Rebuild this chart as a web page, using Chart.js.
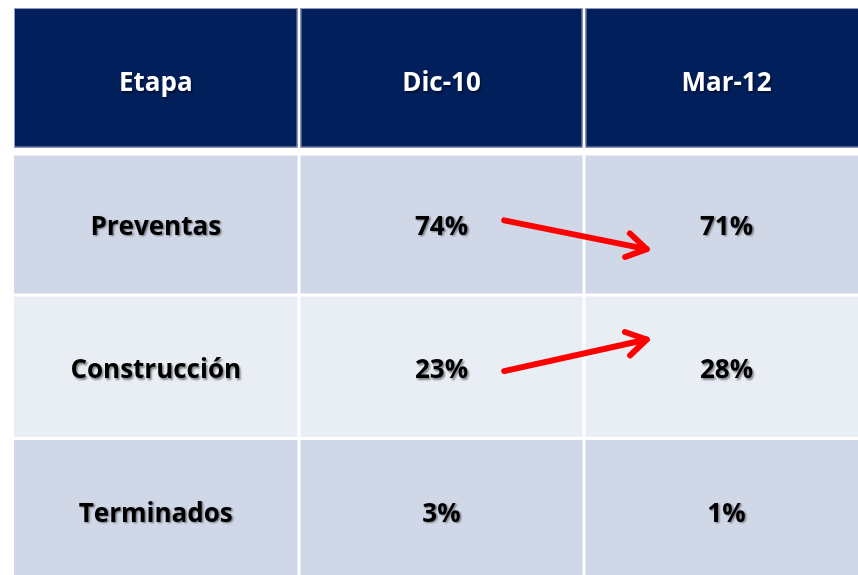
<!DOCTYPE html>
<html>
<head>
<meta charset="utf-8">
<script src="https://cdn.jsdelivr.net/npm/chart.js@4"></script>
<style>
  body { margin: 0; background: #fff; }
  canvas { display: block; }
</style>
</head>
<body>
<canvas id="tableChart" width="858" height="575"></canvas>
<script>
// --- table data ---
const columns = ['Etapa', 'Dic-10', 'Mar-12'];
const stages = ['Preventas', 'Construcción', 'Terminados'];
const dic10 = [74, 23, 3];
const mar12 = [71, 28, 1];

// arrows (in table units: x = column, y = row, header is row 0..1)
const arrowFrom = [[1.72, 1.48], [1.72, 2.53]];
const arrowTo = [[2.22, 1.68], [2.22, 2.31]];

const headerColor = '#001f5b';
const rowColors = ['#d0d8e8', '#e9edf4', '#d0d8e8'];

// draws the cells and the text using the chart scales
const tablePlugin = {
    id: 'tableCells',
    beforeDatasetsDraw(chart) {
        const ctx = chart.ctx;
        const xs = chart.scales.x;
        const ys = chart.scales.y;
        const nRows = stages.length + 1;

        for (let r = 0; r < nRows; r++) {
            for (let c = 0; c < columns.length; c++) {
                let left = xs.getPixelForValue(c) + (c === 0 ? 0 : 1.5);
                let right = xs.getPixelForValue(c + 1) - 1.5;
                let top = ys.getPixelForValue(r) + (r === 0 ? 0 : 1.5);
                let bottom = ys.getPixelForValue(r + 1) - 1.5;
                if (r === 0) bottom -= 2.5;
                if (r === 1) top += 2.5;

                ctx.fillStyle = r === 0 ? headerColor : rowColors[r - 1];
                ctx.fillRect(left, top, right - left, bottom - top);
                if (r === 0) {
                    ctx.strokeStyle = '#8d9cc0';
                    ctx.lineWidth = 1;
                    ctx.strokeRect(left + 0.5, top + 0.5, right - left - 1, bottom - top - 1);
                }

                let text;
                if (r === 0) text = columns[c];
                else if (c === 0) text = stages[r - 1];
                else if (c === 1) text = dic10[r - 1] + '%';
                else text = mar12[r - 1] + '%';

                const cx = (left + right) / 2;
                const cy = (ys.getPixelForValue(r) + ys.getPixelForValue(r + 1)) / 2 + 4;
                ctx.save();
                ctx.font = 'bold 26px "Open Sans"';
                ctx.textAlign = 'center';
                ctx.textBaseline = 'middle';
                ctx.shadowColor = 'rgba(0,0,0,0.45)';
                ctx.shadowOffsetX = 1.5;
                ctx.shadowOffsetY = 1.5;
                ctx.shadowBlur = 2;
                ctx.fillStyle = r === 0 ? '#ffffff' : '#000000';
                ctx.fillText(text, cx, cy);
                ctx.restore();
            }
        }
    },
    afterDatasetsDraw(chart) {
        // arrow heads
        const ctx = chart.ctx;
        const xs = chart.scales.x;
        const ys = chart.scales.y;
        arrowFrom.forEach((from, i) => {
            const x0 = xs.getPixelForValue(from[0]);
            const y0 = ys.getPixelForValue(from[1]);
            const x1 = xs.getPixelForValue(arrowTo[i][0]);
            const y1 = ys.getPixelForValue(arrowTo[i][1]);
            const ang = Math.atan2(y1 - y0, x1 - x0);
            const len = 23;
            ctx.save();
            ctx.strokeStyle = '#ff0000';
            ctx.lineWidth = 6;
            ctx.lineCap = 'round';
            ctx.lineJoin = 'round';
            ctx.beginPath();
            ctx.moveTo(x1 + len * Math.cos(ang + Math.PI - 0.55), y1 + len * Math.sin(ang + Math.PI - 0.55));
            ctx.lineTo(x1, y1);
            ctx.lineTo(x1 + len * Math.cos(ang + Math.PI + 0.55), y1 + len * Math.sin(ang + Math.PI + 0.55));
            ctx.stroke();
            ctx.restore();
        });
    }
};

const colWidth = 285;
const rowHeight = 143.5;

const arrowDatasets = arrowFrom.map((from, i) => ({
    type: 'line',
    data: [{ x: from[0], y: from[1] }, { x: arrowTo[i][0], y: arrowTo[i][1] }],
    borderColor: '#ff0000',
    borderWidth: 6,
    borderCapStyle: 'round',
    pointRadius: 0,
    pointHoverRadius: 0,
    fill: false
}));

const chart = new Chart(document.getElementById('tableChart').getContext('2d'), {
    type: 'scatter',
    data: { datasets: arrowDatasets },
    plugins: [tablePlugin],
    options: {
        responsive: false,
        animation: false,
        layout: { padding: 0 },
        plugins: { legend: { display: false }, tooltip: { enabled: false } },
        scales: {
            x: { type: 'linear', display: false, min: -14 / colWidth, max: (858 - 14) / colWidth },
            y: { type: 'linear', display: false, reverse: true, min: -8 / rowHeight, max: (575 - 8) / rowHeight }
        }
    }
});
</script>
</body>
</html>
